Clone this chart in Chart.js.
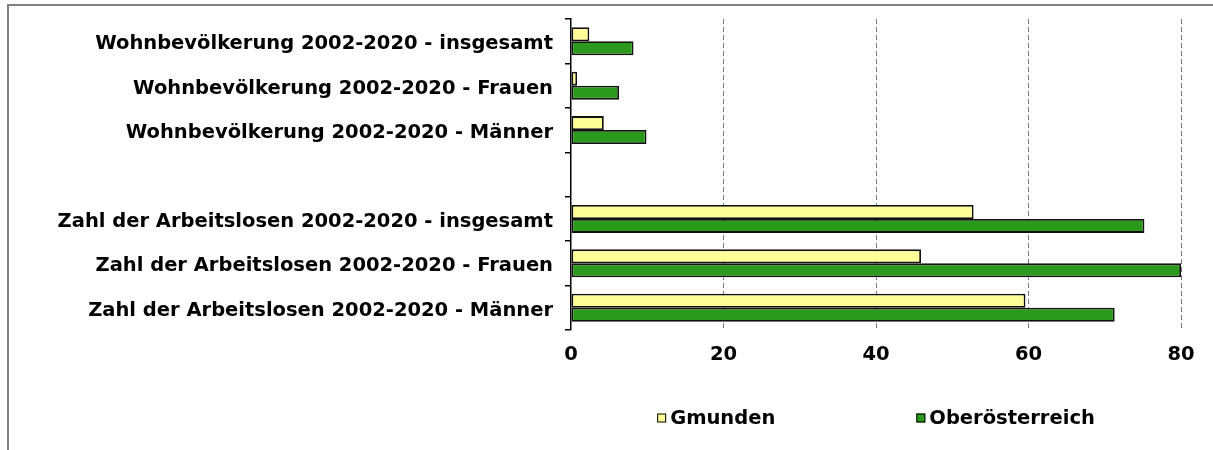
<!DOCTYPE html>
<html>
<head>
<meta charset="utf-8">
<script src="https://cdn.jsdelivr.net/npm/chart.js@4"></script>
<style>
  html, body { margin: 0; padding: 0; background: #fff; }
  #frame {
    position: absolute; left: 7px; top: 4px;
    width: 1204px; height: 444px;
    border-left: 2px solid #808080; border-top: 2px solid #808080;
  }
  #wrap { position: relative; width: 1204px; height: 444px; }
</style>
</head>
<body>
<div id="frame"><div id="wrap"><canvas id="chart"></canvas></div></div>
<script>
// categories (empty row separates the two blocks)
const categories = [
  "Wohnbevölkerung 2002-2020 - insgesamt",
  "Wohnbevölkerung 2002-2020 - Frauen",
  "Wohnbevölkerung 2002-2020 - Männer",
  "",
  "Zahl der Arbeitslosen 2002-2020 - insgesamt",
  "Zahl der Arbeitslosen 2002-2020 - Frauen",
  "Zahl der Arbeitslosen 2002-2020 - Männer"
];
const gmunden = [2.4, 0.8, 4.3, null, 52.8, 45.9, 59.6];
const oberoesterreich = [8.2, 6.3, 9.9, null, 75.2, 80.0, 71.3];
const xTicks = [0, 20, 40, 60, 80];

const FONT = '"DejaVu Sans", Verdana, sans-serif';
const FONT_SIZE = 19.5;

// legend row under the plot, drawn from the datasets
const legendRow = {
  id: "legendRow",
  afterDraw(chart) {
    const { ctx, chartArea, data } = chart;
    const box = 9, gap = 4, spacing = 141;
    ctx.save();
    ctx.font = "bold " + FONT_SIZE + "px " + FONT;
    ctx.textBaseline = "middle";
    const widths = data.datasets.map((ds) => box + gap + ctx.measureText(ds.label).width);
    const total = widths.reduce((a, b) => a + b, 0) + spacing * (widths.length - 1);
    let x = (chartArea.left + chartArea.right) / 2 - total / 2;
    const y = 412;
    data.datasets.forEach((ds, i) => {
      ctx.fillStyle = ds.backgroundColor;
      ctx.fillRect(x, y - box / 2, box, box);
      ctx.strokeStyle = "#000";
      ctx.lineWidth = 1;
      ctx.strokeRect(x + 0.5, y - box / 2 + 0.5, box - 1, box - 1);
      ctx.fillStyle = "#000";
      ctx.fillText(ds.label, x + box + gap, y + 1);
      x += widths[i] + spacing;
    });
    ctx.restore();
  },
};

const ctx = document.getElementById("chart").getContext("2d");
new Chart(ctx, {
  type: "bar",
  data: {
    labels: categories,
    datasets: [
      {
        label: "Gmunden",
        data: gmunden,
        backgroundColor: "#FFFF99",
        borderColor: "#111",
        borderWidth: 1.8,
        borderSkipped: false,
      },
      {
        label: "Oberösterreich",
        data: oberoesterreich,
        backgroundColor: "#2B991B",
        borderColor: "#111",
        borderWidth: 1.8,
        borderSkipped: false,
      },
    ],
  },
  options: {
    indexAxis: "y",
    responsive: true,
    maintainAspectRatio: false,
    animation: false,
    layout: { padding: { top: 13, right: 32, left: 0, bottom: 0 } },
    datasets: {
      bar: { categoryPercentage: 0.63, barPercentage: 1.0 },
    },
    scales: {
      x: {
        min: 0,
        max: 80,
        afterBuildTicks: (scale) => {
          scale.ticks = xTicks.map((v) => ({ value: v }));
        },
        afterFit: (scale) => {
          scale.height = 120;
        },
        ticks: {
          padding: 13,
          color: "#000",
          font: { family: FONT, size: FONT_SIZE, weight: "bold" },
        },
        grid: {
          color: (c) => (c.tick && c.tick.value === 0 ? "rgba(0,0,0,0)" : "#777"),
          lineWidth: 1,
          drawTicks: false,
        },
        border: { display: false, dash: [5, 3] },
      },
      y: {
        offset: true,
        afterFit: (scale) => {
          scale.width = 562;
          scale.paddingTop = 0;
          scale.paddingBottom = 0;
        },
        ticks: {
          padding: 12,
          labelOffset: 3,
          color: "#000",
          font: { family: FONT, size: FONT_SIZE, weight: "bold" },
        },
        grid: {
          offset: true,
          drawOnChartArea: false,
          drawTicks: true,
          tickLength: 6,
          color: "#000",
          lineWidth: 1.5,
        },
        border: { display: true, color: "#000", width: 1.5 },
      },
    },
    plugins: {
      legend: { display: false },
      tooltip: { enabled: false },
    },
  },
  plugins: [legendRow],
});
</script>
</body>
</html>
